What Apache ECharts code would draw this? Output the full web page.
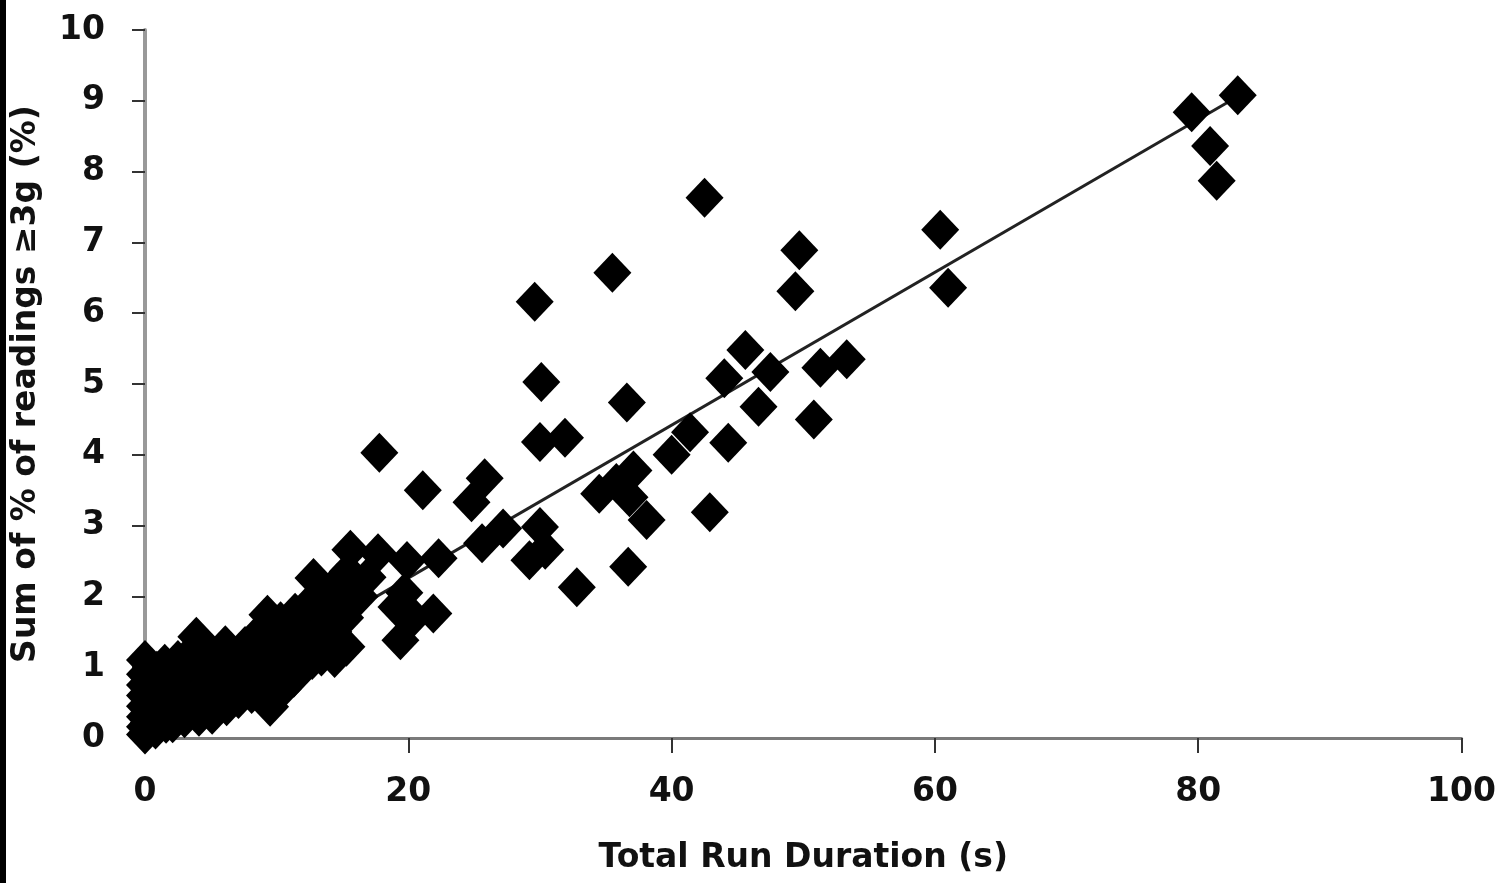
<!DOCTYPE html>
<html>
<head>
<meta charset="utf-8">
<script src="https://cdn.jsdelivr.net/npm/echarts@6/dist/echarts.min.js"></script>
<style>html,body{margin:0;padding:0;background:#fff}#c{width:1499px;height:883px}</style>
</head>
<body>
<div id="c"></div>
<script>
// Total run duration (s)
const runDuration = [
  0,0,0,0,0,0,0,0,
  0.3,0.4,0.5,0.6,0.8,0.9,
  1.1,1.2,1.3,1.5,1.6,1.7,
  2.1,2.2,2.3,2.5,2.7,2.8,
  3.0,3.1,3.3,3.5,3.6,3.8,
  3.9,4.1,4.3,4.5,4.7,4.9,
  5.1,5.2,5.4,5.6,5.8,
  6.1,6.2,6.4,6.7,6.9,
  7.1,7.3,7.6,7.9,
  8.1,8.3,8.5,8.8,
  9.3,9.2,9.5,9.4,9.7,9.9,
  10.1,10.3,10.5,10.7,
  11.0,11.3,11.4,11.6,
  12.0,12.3,12.7,12.8,12.5,
  13.0,13.3,13.6,13.4,
  14.1,14.3,14.4,14.6,
  15.2,15.3,15.4,15.6,
  16.3,16.9,17.7,
  17.8,19.1,19.4,19.7,19.9,20.4,21.9,22.3,21.1,24.8,25.8,25.6,27.2,29.2,30.4,30.0,
  29.6,30.1,30.0,31.9,32.8,34.5,35.8,36.8,37.1,35.5,36.6,36.7,38.1,40.0,41.4,42.5,
  42.9,44.3,44.0,45.6,46.6,47.5,49.7,49.4,50.8,51.3,53.3,60.4,61.0,79.5,80.9,81.4,83.0
];
// Sum of % of readings >=3g (%)
const readingsPct = [
  0.05,0.16,0.3,0.45,0.6,0.75,0.9,1.1,
  0.22,0.5,0.38,0.7,0.12,0.95,
  0.3,0.55,0.85,1.05,0.2,0.68,
  0.21,0.45,0.8,1.1,0.35,0.6,
  0.28,0.55,0.9,1.2,0.42,0.72,
  1.43,0.3,1.0,0.6,1.25,0.85,
  0.33,0.5,0.85,1.1,0.65,
  1.31,0.45,0.9,1.15,0.7,
  0.55,1.0,1.3,0.8,
  0.62,1.1,1.45,0.9,
  1.74,0.6,0.44,1.2,0.85,1.5,
  1.0,1.65,0.7,1.3,
  1.1,0.85,1.77,1.45,
  1.25,1.6,1.1,2.26,1.9,
  1.45,1.75,2.05,1.15,
  1.9,1.5,1.13,2.19,
  1.7,1.29,2.35,2.66,
  2.0,2.27,2.61,
  4.03,1.85,1.38,2.05,2.5,1.71,1.76,2.54,3.5,3.33,3.67,2.75,2.96,2.51,2.66,2.98,
  6.16,5.03,4.18,4.24,2.13,3.45,3.6,3.4,3.78,6.57,4.74,2.42,3.08,4.0,4.32,7.63,
  3.19,4.17,5.08,5.48,4.68,5.17,6.89,6.31,4.5,5.23,5.35,7.18,6.36,8.84,8.36,7.87,9.08
];
// Linear trend line end points
const trendX = [0, 83];
const trendY = [0.1, 9.06];
const xTicks = [0, 20, 40, 60, 80, 100];
const yTicks = [0,1,2,3,4,5,6,7,8,9,10];

const points = runDuration.map((x, i) => [x, readingsPct[i]]);
const trend = trendX.map((x, i) => [x, trendY[i]]);

const font = 'DejaVu Sans';
const chart = echarts.init(document.getElementById('c'));
chart.setOption({
  animation: false,
  backgroundColor: '#ffffff',
  grid: { left: 145, right: 37, top: 30, bottom: 145 },
  xAxis: {
    type: 'value', min: xTicks[0], max: xTicks[xTicks.length - 1], interval: 20,
    name: 'Total Run Duration (s)', nameLocation: 'middle', nameGap: 104,
    nameTextStyle: { fontFamily: font, fontWeight: 'bold', fontSize: 33, color: '#111' },
    axisLine: { lineStyle: { color: '#7a7a7a', width: 3 } },
    axisTick: { show: true, length: 15, lineStyle: { color: '#333', width: 2 } },
    axisLabel: { margin: 38, fontFamily: font, fontWeight: 'bold', fontSize: 33, color: '#111' },
    splitLine: { show: false }
  },
  yAxis: {
    type: 'value', min: yTicks[0], max: yTicks[yTicks.length - 1], interval: 1,
    name: 'Sum of % of readings \u22653g (%)', nameLocation: 'middle', nameGap: 102, nameRotate: 90,
    nameTextStyle: { fontFamily: font, fontWeight: 'bold', fontSize: 33, color: '#111' },
    axisLine: { show: true, lineStyle: { color: '#999', width: 4 } },
    axisTick: { show: true, length: 13, lineStyle: { color: '#333', width: 2 } },
    axisLabel: { margin: 40, fontFamily: font, fontWeight: 'bold', fontSize: 33, color: '#111' },
    splitLine: { show: false }
  },
  graphic: [{ type: 'rect', left: 0, top: 0, shape: { width: 6, height: 883 }, style: { fill: '#000' } }],
  series: [
    {
      type: 'line', data: trend, symbol: 'none', lineStyle: { color: '#222', width: 3 }, z: 1
    },
    {
      type: 'scatter', data: points, symbol: 'diamond', symbolSize: [38, 40],
      itemStyle: { color: '#000', opacity: 1 }, z: 2
    }
  ]
});
</script>
</body>
</html>
